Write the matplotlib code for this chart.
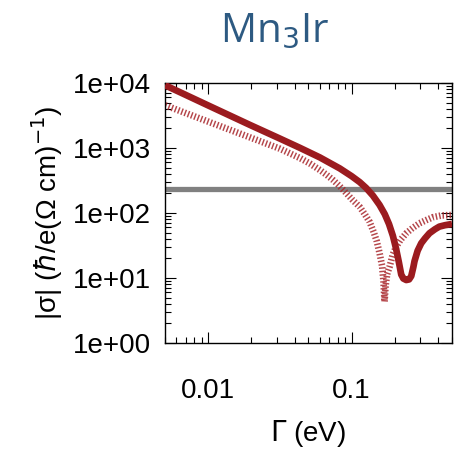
import matplotlib
matplotlib.use("Agg")
import matplotlib.pyplot as plt
from matplotlib.ticker import LogLocator, FixedLocator, NullFormatter

# data (Gamma in eV, |sigma| in hbar/e (Ohm cm)^-1)
gamma_solid = [0.00502, 0.01, 0.0196, 0.0316, 0.0436, 0.060, 0.0826, 0.1,
               0.1138, 0.126, 0.1406, 0.1563, 0.170, 0.182, 0.1936, 0.204,
               0.213, 0.2213, 0.229, 0.240, 0.251, 0.260, 0.269, 0.274,
               0.288, 0.305, 0.324, 0.348, 0.380, 0.408, 0.447, 0.5]
sigma_solid = [9226, 4519, 2259, 1396, 1005, 716, 485, 368,
               298, 243, 185, 133, 95.9, 67.5, 44.6, 27.9,
               17.6, 11.3, 9.8, 9.3, 9.5, 10.7, 14.8, 18.2,
               26.3, 34.2, 40.7, 48.8, 56.2, 61.7, 64.9, 67.8]

gamma_dot = [0.00502, 0.01, 0.01959, 0.0316, 0.04355, 0.05105, 0.05998,
             0.06699, 0.07413, 0.0826, 0.09183, 0.1016, 0.1138, 0.123,
             0.1334, 0.1422, 0.1493, 0.1563, 0.1629, 0.1667, 0.1694,
             0.1722, 0.1766, 0.1837, 0.1928, 0.2042, 0.2188, 0.2399,
             0.2655, 0.2965, 0.3319, 0.3673, 0.4217, 0.5]
sigma_dot = [4539, 2547, 1455, 975, 701, 578, 459,
             385, 322, 258, 201, 158, 124, 96.6,
             72.8, 51.1, 37.1, 24.3, 15.3, 8.67, 4.32,
             7.53, 11.5, 14.9, 22.6, 30.3, 38.5, 48.8,
             58.7, 69.5, 78.0, 85.9, 91.6, 93.1]

sigma_ref = 234  # horizontal reference level

xmin, xmax = 0.005, 0.5
ymin, ymax = 1, 1e4
xticks = [0.01, 0.1]
xticklabels = ["0.01", "0.1"]
yticks = [1, 10, 100, 1000, 10000]
yticklabels = ["1e+00", "1e+01", "1e+02", "1e+03", "1e+04"]

plt.rcParams['font.family'] = ['Liberation Sans', 'DejaVu Sans']

fig = plt.figure(figsize=(4.58, 4.51), dpi=100)
ax = fig.add_axes([0.360, 0.2395, 0.627, 0.5765])

ax.plot(gamma_solid, sigma_solid, color="#9b1b1f", lw=4.8,
        solid_joinstyle="round", solid_capstyle="butt", zorder=3)
ax.plot(gamma_dot, sigma_dot, color="#a8262b", lw=4.8, alpha=0.85,
        linestyle=(0, (0.22, 0.3)), dash_capstyle="butt",
        dash_joinstyle="round", zorder=2)
ax.axhline(sigma_ref, color="#808080", lw=3.8, zorder=1)

ax.set_xscale("log")
ax.set_yscale("log")
ax.set_xlim(xmin, xmax)
ax.set_ylim(ymin, ymax)

ax.xaxis.set_major_locator(FixedLocator(xticks))
ax.set_xticklabels(xticklabels)
ax.xaxis.set_minor_locator(LogLocator(base=10, subs=range(2, 10), numticks=20))
ax.xaxis.set_minor_formatter(NullFormatter())
ax.yaxis.set_major_locator(FixedLocator(yticks))
ax.set_yticklabels(yticklabels)
ax.yaxis.set_minor_locator(LogLocator(base=10, subs=range(2, 10), numticks=20))
ax.yaxis.set_minor_formatter(NullFormatter())

ax.tick_params(which="both", direction="in", top=True, right=True,
               width=0.8, labelsize=20, colors="black")
ax.tick_params(which="major", length=8)
ax.tick_params(which="minor", length=4)
ax.tick_params(axis="y", which="major", pad=10)
ax.tick_params(axis="x", which="major", pad=25)
for s in ax.spines.values():
    s.set_linewidth(1.0)

ax.set_xlabel(r"$\Gamma$ (eV)", fontsize=20, labelpad=10)
ax.set_ylabel(r"|σ| ($\hbar$/e(Ω cm)$^{-1}$)", fontsize=20, labelpad=6)

fig.text(0.60, 0.932, r"Mn$_3$Ir", color="#2d5a82", fontsize=29,
         family=["Open Sans", "DejaVu Sans"], ha="center", va="center")

fig.savefig("out.png", dpi=100)
